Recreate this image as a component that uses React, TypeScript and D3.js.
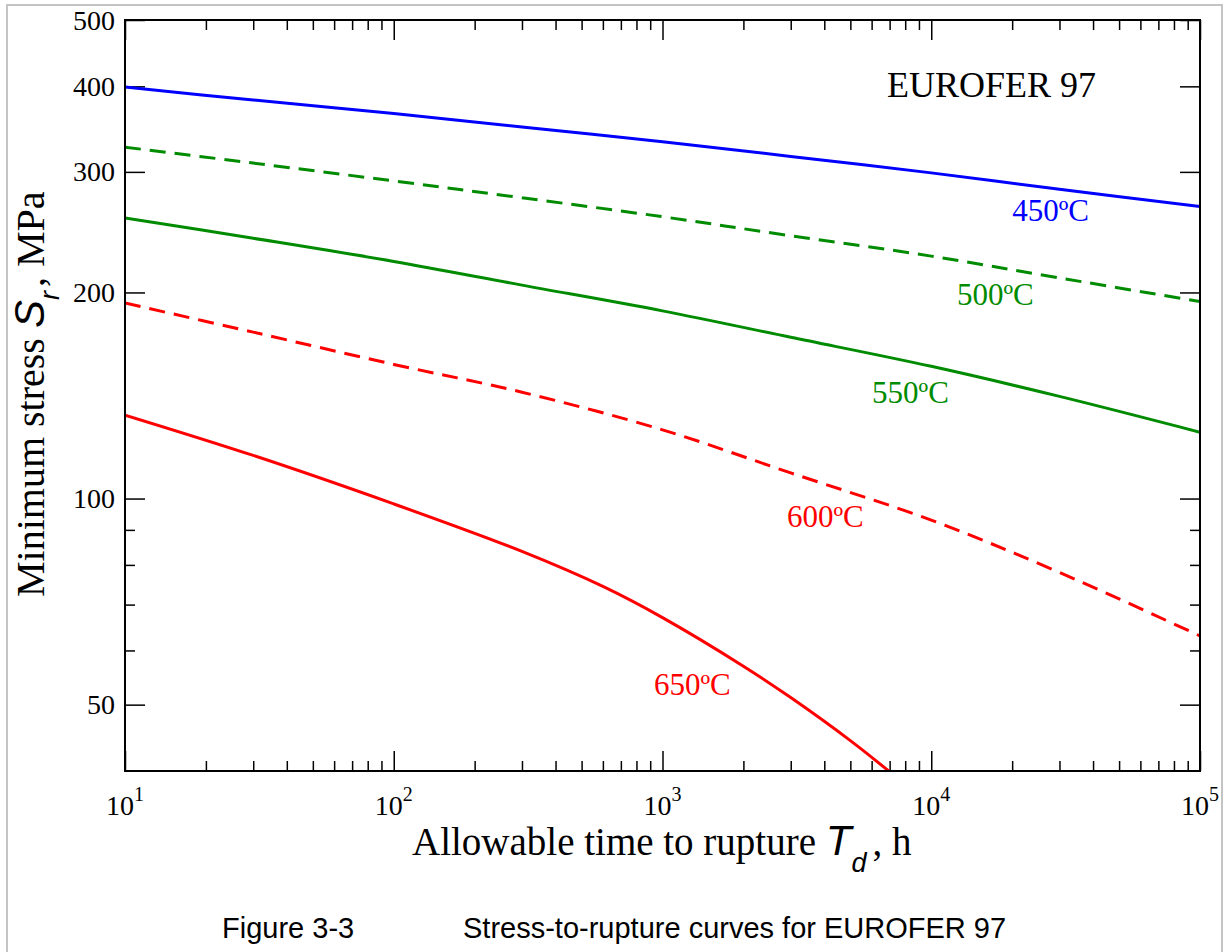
import React, { useEffect, useRef } from 'react';
import * as d3 from 'd3';

// rupture time, h
const times = [10, 30, 100, 300, 1000, 3000, 10000, 30000, 100000];
// minimum stress, MPa
const stress450 = [399, 382, 365, 349, 332, 316, 299, 283, 267];
const stress500 = [326, 309, 291, 275, 258, 242, 226, 210, 194];
const stress550 = [257, 240, 222, 205, 188, 172, 156, 141, 125];
const stress600 = [193, 175, 157, 143, 126, 109, 93, 78, 63];
const times650 = [10, 30, 100, 300, 600, 1000, 2000, 3000, 5000, 7000];
const stress650 = [132.4, 115.6, 98.2, 83.7, 74.4, 67.0, 56.9, 51.2, 44.3, 39.9];

const xMajorTicks = [10, 100, 1000, 10000, 100000];
const xTickExponents = ['1', '2', '3', '4', '5'];
const yMajorTicks = [50, 100, 200, 300, 400, 500];
const yTickLabels = ['50', '100', '200', '300', '400', '500'];
const yMinorTicks = [60, 70, 80, 90];

const SERIF = '"Liberation Serif", "Times New Roman", serif';
const SANS = '"Liberation Sans", Arial, sans-serif';

export default function App() {
  const ref = useRef<SVGSVGElement>(null);

  useEffect(() => {
    const svg = d3.select(ref.current);
    svg.selectAll('*').remove();

    const left = 125;
    const right = 1200;
    const top = 20;
    const bottom = 771;

    const x = d3.scaleLog().domain([10, 100000]).range([left, right]);
    const y = d3.scaleLog().domain([40, 500]).range([bottom, top]);

    svg.append('rect').attr('width', 1228).attr('height', 952).attr('fill', '#fff');
    svg
      .append('rect')
      .attr('x', 7)
      .attr('y', 5)
      .attr('width', 1215)
      .attr('height', 1000)
      .attr('fill', 'none')
      .attr('stroke', '#c4c4c4')
      .attr('stroke-width', 2);

    svg
      .append('clipPath')
      .attr('id', 'plot-clip')
      .append('rect')
      .attr('x', left)
      .attr('y', top)
      .attr('width', right - left)
      .attr('height', bottom - top);

    // ticks, all pointing inward
    const xMinor = x.ticks().filter((t) => !xMajorTicks.includes(t));
    const tickAxis = (g: any, axis: any) => {
      g.call(axis);
      g.select('.domain').remove();
      g.selectAll('line').attr('stroke', '#000').attr('stroke-width', 1.5);
    };
    const axes: [any, string][] = [
      [d3.axisBottom(x).tickValues(xMajorTicks).tickSize(-20), `translate(0,${bottom})`],
      [d3.axisBottom(x).tickValues(xMinor).tickSize(-10), `translate(0,${bottom})`],
      [d3.axisTop(x).tickValues(xMajorTicks).tickSize(-20), `translate(0,${top})`],
      [d3.axisTop(x).tickValues(xMinor).tickSize(-10), `translate(0,${top})`],
      [d3.axisLeft(y).tickValues(yMajorTicks).tickSize(-20), `translate(${left},0)`],
      [d3.axisLeft(y).tickValues(yMinorTicks).tickSize(-10), `translate(${left},0)`],
      [d3.axisRight(y).tickValues(yMajorTicks).tickSize(-20), `translate(${right},0)`],
      [d3.axisRight(y).tickValues(yMinorTicks).tickSize(-10), `translate(${right},0)`],
    ];
    axes.forEach(([axis, tr]) => {
      svg
        .append('g')
        .attr('transform', tr)
        .call((g: any) => tickAxis(g, axis.tickFormat(() => '')));
    });

    // curves
    const line = d3
      .line<[number, number]>()
      .x((d) => x(d[0]))
      .y((d) => y(d[1]))
      .curve(d3.curveCatmullRom.alpha(0.5));
    const curves = [
      { t: times, s: stress450, color: '#0000ff', dash: null },
      { t: times, s: stress500, color: '#008b00', dash: '16 9' },
      { t: times, s: stress550, color: '#008b00', dash: null },
      { t: times, s: stress600, color: '#ff0000', dash: '16 9' },
      { t: times650, s: stress650, color: '#ff0000', dash: null },
    ];
    const plot = svg.append('g').attr('clip-path', 'url(#plot-clip)');
    curves.forEach((c) => {
      plot
        .append('path')
        .attr('d', line(c.t.map((t, i) => [t, c.s[i]] as [number, number])))
        .attr('fill', 'none')
        .attr('stroke', c.color)
        .attr('stroke-width', 3)
        .attr('stroke-dasharray', c.dash);
    });

    // frame
    svg
      .append('rect')
      .attr('x', left)
      .attr('y', top)
      .attr('width', right - left)
      .attr('height', bottom - top)
      .attr('fill', 'none')
      .attr('stroke', '#000')
      .attr('stroke-width', 2);

    // tick labels
    xMajorTicks.forEach((t, i) => {
      const txt = svg
        .append('text')
        .attr('x', x(t))
        .attr('y', 815)
        .attr('text-anchor', 'middle')
        .attr('font-family', SERIF)
        .attr('font-size', 28)
        .attr('fill', '#000');
      txt.append('tspan').text('10');
      txt.append('tspan').attr('dy', -14).attr('font-size', 20).text(xTickExponents[i]);
    });
    yMajorTicks.forEach((v, i) => {
      svg
        .append('text')
        .attr('x', left - 10)
        .attr('y', y(v) + 9.5)
        .attr('text-anchor', 'end')
        .attr('font-family', SERIF)
        .attr('font-size', 28)
        .attr('fill', '#000')
        .text(yTickLabels[i]);
    });

    // axis titles
    const xt = svg
      .append('text')
      .attr('x', 412)
      .attr('y', 855)
      .attr('font-family', SERIF)
      .attr('font-size', 39)
      .attr('fill', '#000');
    xt.append('tspan').text('Allowable time to rupture ');
    xt.append('tspan').attr('font-family', SANS).attr('font-style', 'italic').attr('font-size', 42).text('T');
    xt.append('tspan').attr('font-family', SANS).attr('font-style', 'italic').attr('font-size', 27).attr('dy', 17).text('d');
    xt.append('tspan').attr('dy', -17).attr('dx', 6).text(', h');

    const yt = svg
      .append('text')
      .attr('transform', 'translate(44,597) rotate(-90)')
      .attr('text-anchor', 'start')
      .attr('font-family', SERIF)
      .attr('font-size', 40)
      .attr('fill', '#000');
    yt.append('tspan').text('Minimum stress ');
    yt.append('tspan').attr('font-family', SANS).attr('font-style', 'italic').attr('font-size', 42).text('S');
    yt.append('tspan').attr('font-family', SANS).attr('font-style', 'italic').attr('font-size', 27).attr('dy', 15).text('r');
    yt.append('tspan').attr('dy', -15).attr('dx', 4).text(', MPa');

    // annotations
    svg
      .append('text')
      .attr('x', x(6840))
      .attr('y', y(386))
      .attr('font-family', SERIF)
      .attr('font-size', 36)
      .attr('fill', '#000')
      .text('EUROFER 97');
    const tempLabels = [
      { text: '450ºC', t: 20000, v: 254, color: '#0000ff' },
      { text: '500ºC', t: 12470, v: 192, color: '#008b00' },
      { text: '550ºC', t: 6020, v: 138, color: '#008b00' },
      { text: '600ºC', t: 2906, v: 90.9, color: '#ff0000' },
      { text: '650ºC', t: 929, v: 51.6, color: '#ff0000' },
    ];
    tempLabels.forEach((l) => {
      svg
        .append('text')
        .attr('x', x(l.t))
        .attr('y', y(l.v))
        .attr('font-family', SERIF)
        .attr('font-size', 31)
        .attr('fill', l.color)
        .text(l.text);
    });

    // caption
    svg
      .append('text')
      .attr('x', 222)
      .attr('y', 938)
      .attr('font-family', SANS)
      .attr('font-size', 29)
      .attr('fill', '#000')
      .text('Figure 3-3');
    svg
      .append('text')
      .attr('x', 463)
      .attr('y', 938)
      .attr('font-family', SANS)
      .attr('font-size', 29)
      .attr('fill', '#000')
      .text('Stress-to-rupture curves for EUROFER 97');
  }, []);

  return (
    <svg
      ref={ref}
      width={1228}
      height={952}
      style={{ position: 'absolute', left: 0, top: 0 }}
    />
  );
}
